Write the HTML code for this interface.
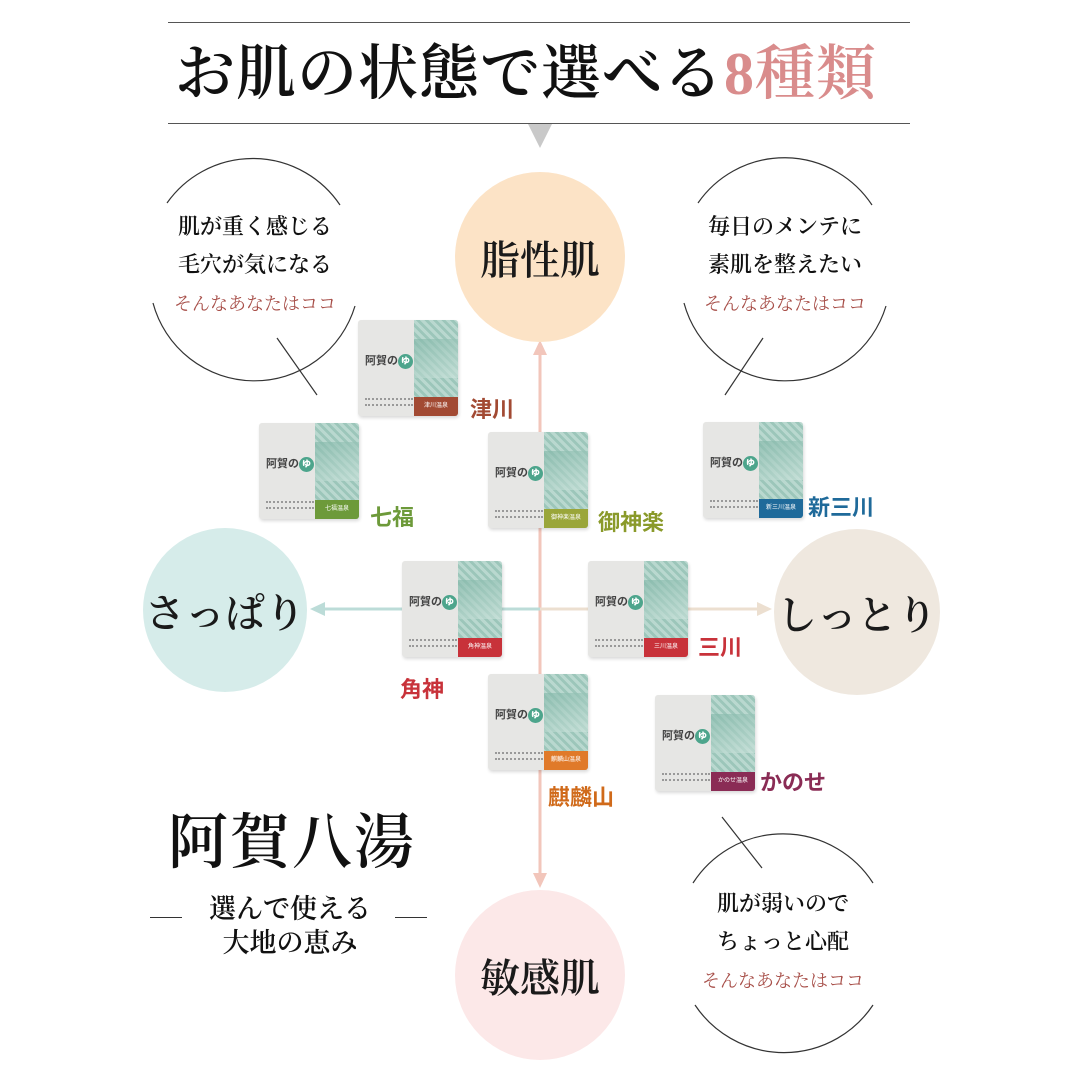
<!DOCTYPE html>
<html><head><meta charset="utf-8"><style>
*{margin:0;padding:0;box-sizing:border-box}
body{width:1080px;height:1080px;background:#fff;position:relative;overflow:hidden;font-family:"Liberation Serif","Noto Serif CJK SC",serif;color:#222}
.a{position:absolute}
.t{position:absolute;white-space:nowrap}
.circ{position:absolute;border-radius:50%;display:flex;align-items:center;justify-content:center;font-size:40px;color:#1a1a1a;font-weight:600}
.box{position:absolute;width:100px;height:96px;background:#e6e6e4;border-radius:3px;box-shadow:1px 2px 3px rgba(0,0,0,.15);overflow:hidden}
.box .p{position:absolute;right:0;top:0;width:44%;height:100%;background:repeating-linear-gradient(45deg,#b9d8cf 0 3px,#9cc6ba 3px 6px)}
.box .p2{position:absolute;right:0;top:20%;width:44%;height:40%;background:linear-gradient(160deg,#7fb5a6,#cfe5de);opacity:.6}
.box .l{position:absolute;right:0;bottom:0;width:44%;height:20%;font-size:6px;color:#fff;text-align:center;line-height:19px;font-family:"Liberation Sans","Noto Sans CJK JP",sans-serif}
.box .n{position:absolute;left:7px;top:32px;font-size:11px;font-weight:bold;color:#444;font-family:"Liberation Sans","Noto Sans CJK JP",sans-serif}
.box .n b{display:inline-block;width:15px;height:15px;border-radius:50%;background:#4da58c;color:#fff;font-size:9px;text-align:center;line-height:15px;vertical-align:middle}
.box .s{position:absolute;left:7px;bottom:10px;width:48px;height:8px;border-top:2px dotted #999;border-bottom:2px dotted #999}
.pl{position:absolute;font-size:22px;font-weight:bold;font-family:"Liberation Sans","Noto Sans CJK JP",sans-serif;white-space:nowrap}
.q{font-size:22px;line-height:38px;text-align:center;position:absolute;width:220px;color:#111;font-weight:600}
.q .r{color:#a8504a;font-size:18px;font-weight:400}
</style></head><body>
<div class="a" style="left:168px;top:22px;width:742px;height:1px;background:#555"></div>
<div class="a" style="left:168px;top:123px;width:742px;height:1px;background:#555"></div>
<div class="t" style="left:175px;top:36px;font-size:60px;line-height:76px;letter-spacing:1px;font-weight:600;color:#111">お肌の状態で選べる<span style="color:#d98c8c">8種類</span></div>
<div class="a" style="left:528px;top:124px;width:0;height:0;border-left:12px solid transparent;border-right:12px solid transparent;border-top:24px solid #c9c9c9"></div>

<svg class="a" style="left:0;top:0" width="1080" height="1080">
<g fill="none" stroke="#333" stroke-width="1.2">
<path d="M167 203 A105 105 0 0 1 340 205"/>
<path d="M153 303 A105 105 0 0 0 355 306"/>
<line x1="277" y1="338" x2="317" y2="395"/>
<path d="M698 203 A105 105 0 0 1 872 205"/>
<path d="M684 303 A105 105 0 0 0 886 306"/>
<line x1="763" y1="338" x2="725" y2="395"/>
<path d="M693 883 A107 107 0 0 1 873 883"/>
<path d="M695 1005 A107 107 0 0 0 873 1005"/>
<line x1="722" y1="817" x2="762" y2="868"/>
</g>
<g stroke-width="3">
<line x1="540" y1="350" x2="540" y2="878" stroke="#f2c6bb"/>
<line x1="318" y1="609" x2="540" y2="609" stroke="#bcdcd8"/>
<line x1="540" y1="609" x2="764" y2="609" stroke="#ecdfd0"/>
</g>
<polygon points="540,340 533,355 547,355" fill="#f2c6bb"/>
<polygon points="540,888 533,873 547,873" fill="#f2c6bb"/>
<polygon points="310,609 325,602 325,616" fill="#bcdcd8"/>
<polygon points="772,609 757,602 757,616" fill="#ecdfd0"/>
</svg>

<div class="circ" style="left:455px;top:172px;width:170px;height:170px;background:#fce3c6">脂性肌</div>
<div class="circ" style="left:143px;top:528px;width:164px;height:164px;background:#d6ecea">さっぱり</div>
<div class="circ" style="left:774px;top:529px;width:166px;height:166px;background:#efe8df">しっとり</div>
<div class="circ" style="left:455px;top:890px;width:170px;height:170px;background:#fce8e8">敏感肌</div>

<div class="q" style="left:145px;top:208px">肌が重く感じる<br>毛穴が気になる<br><span class="r">そんなあなたはココ</span></div>
<div class="q" style="left:675px;top:208px">毎日のメンテに<br>素肌を整えたい<br><span class="r">そんなあなたはココ</span></div>
<div class="q" style="left:673px;top:885px">肌が弱いので<br>ちょっと心配<br><span class="r">そんなあなたはココ</span></div>

<div class="box" style="left:358px;top:320px"><div class="p"></div><div class="p2"></div><div class="n">阿賀の<b>ゆ</b></div><div class="s"></div><div class="l" style="background:#a24a33">津川温泉</div></div>
<div class="pl" style="left:470px;top:392px;color:#a24a33">津川</div>
<div class="box" style="left:259px;top:423px"><div class="p"></div><div class="p2"></div><div class="n">阿賀の<b>ゆ</b></div><div class="s"></div><div class="l" style="background:#6d9a3a">七福温泉</div></div>
<div class="pl" style="left:370px;top:500px;color:#6d9a3a">七福</div>
<div class="box" style="left:488px;top:432px"><div class="p"></div><div class="p2"></div><div class="n">阿賀の<b>ゆ</b></div><div class="s"></div><div class="l" style="background:#9aa63a">御神楽温泉</div></div>
<div class="pl" style="left:598px;top:505px;color:#8a9a2a">御神楽</div>
<div class="box" style="left:703px;top:422px"><div class="p"></div><div class="p2"></div><div class="n">阿賀の<b>ゆ</b></div><div class="s"></div><div class="l" style="background:#1f6a9a">新三川温泉</div></div>
<div class="pl" style="left:808px;top:490px;color:#1f6a9a">新三川</div>
<div class="box" style="left:402px;top:561px"><div class="p"></div><div class="p2"></div><div class="n">阿賀の<b>ゆ</b></div><div class="s"></div><div class="l" style="background:#c8323a">角神温泉</div></div>
<div class="pl" style="left:400px;top:672px;color:#c8323a">角神</div>
<div class="box" style="left:588px;top:561px"><div class="p"></div><div class="p2"></div><div class="n">阿賀の<b>ゆ</b></div><div class="s"></div><div class="l" style="background:#c8323a">三川温泉</div></div>
<div class="pl" style="left:698px;top:630px;color:#c8323a">三川</div>
<div class="box" style="left:488px;top:674px"><div class="p"></div><div class="p2"></div><div class="n">阿賀の<b>ゆ</b></div><div class="s"></div><div class="l" style="background:#e07a2a">麒麟山温泉</div></div>
<div class="pl" style="left:548px;top:780px;color:#d06a1a">麒麟山</div>
<div class="box" style="left:655px;top:695px"><div class="p"></div><div class="p2"></div><div class="n">阿賀の<b>ゆ</b></div><div class="s"></div><div class="l" style="background:#8a2c55">かのせ温泉</div></div>
<div class="pl" style="left:760px;top:765px;color:#8a2c55">かのせ</div>

<div class="t" style="left:168px;top:808px;font-size:60px;line-height:70px;letter-spacing:2px;font-weight:600;color:#111">阿賀八湯</div>
<div class="a" style="left:150px;top:917px;width:32px;height:1px;background:#333"></div>
<div class="a" style="left:395px;top:917px;width:32px;height:1px;background:#333"></div>
<div class="t" style="left:190px;top:892px;font-size:27px;line-height:34px;text-align:center;width:200px;font-weight:600;color:#111">選んで使える<br>大地の恵み</div>
</body></html>
